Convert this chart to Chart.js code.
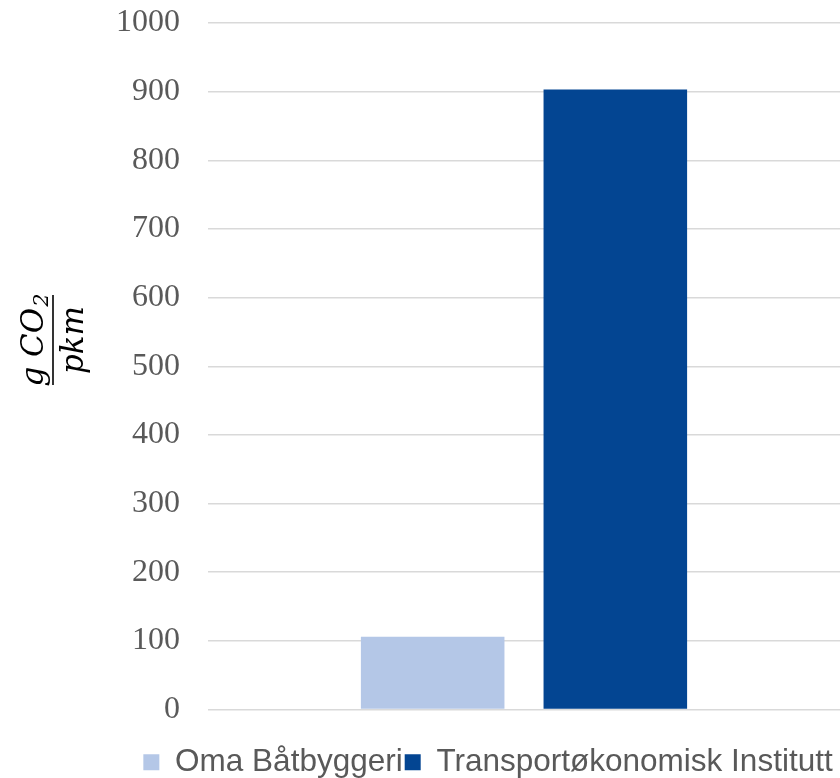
<!DOCTYPE html>
<html>
<head>
<meta charset="utf-8">
<title>g CO2 per pkm</title>
<script src="https://cdn.jsdelivr.net/npm/chart.js@4/dist/chart.umd.min.js"></script>
<style>
  html, body { margin: 0; padding: 0; background: #ffffff; }
  #wrap { width: 840px; height: 778px; }
</style>
</head>
<body>
<div id="wrap"><canvas id="chart" width="840" height="778"></canvas></div>
<script>
// Emissions per passenger-kilometre, grams of CO2
const categories = [''];
const seriesNames = ['Oma Båtbyggeri', 'Transportøkonomisk Institutt'];
const omaValues = [106];
const toiValues = [903];
const yTicks = [0, 100, 200, 300, 400, 500, 600, 700, 800, 900, 1000];

const colors = ['#b4c7e7', '#034592'];
const textGrey = '#595959';

// Rotated fraction "g CO2 / pkm" used as the value-axis title
const fractionTitle = {
  id: 'fractionTitle',
  afterDraw(chart) {
    const ctx = chart.ctx;
    ctx.save();
    ctx.translate(53, 340);
    ctx.rotate(-Math.PI / 2);
    ctx.fillStyle = '#000000';
    ctx.strokeStyle = '#000000';

    const big = 'italic 31px "DejaVu Serif"';
    const small = 'italic 21px "DejaVu Serif"';

    ctx.font = big;
    const numMain = 'g CO';
    const wMain = ctx.measureText(numMain).width;
    ctx.font = small;
    const wSub = ctx.measureText('2').width;
    const numW = wMain + wSub + 1;

    ctx.font = big;
    const den = 'pkm';
    const denW = ctx.measureText(den).width;

    const barHalf = 45;
    ctx.lineWidth = 1.6;
    ctx.beginPath();
    ctx.moveTo(-barHalf, 0);
    ctx.lineTo(barHalf, 0);
    ctx.stroke();

    ctx.textBaseline = 'alphabetic';
    ctx.textAlign = 'left';
    ctx.font = big;
    ctx.fillText(numMain, -numW / 2, -10);
    ctx.font = small;
    ctx.fillText('2', -numW / 2 + wMain + 1, -5);

    ctx.font = big;
    ctx.fillText(den, -denW / 2, 30);
    ctx.restore();
  }
};

// Moves the bottom legend row sideways after layout
const legendOffset = {
  id: 'legendOffset',
  afterLayout(chart) {
    const lg = chart.legend;
    if (!lg) return;
    const dx = 68;
    lg.left += dx;
    lg.right += dx;
  }
};

new Chart(document.getElementById('chart'), {
  type: 'bar',
  data: {
    labels: categories,
    datasets: [
      { label: seriesNames[0], data: omaValues, backgroundColor: colors[0], borderWidth: 0 },
      { label: seriesNames[1], data: toiValues, backgroundColor: colors[1], borderWidth: 0 }
    ]
  },
  options: {
    responsive: false,
    devicePixelRatio: 1,
    animation: false,
    layout: { padding: { top: 23, right: 0, bottom: -10, left: 0 } },
    datasets: {
      bar: { categoryPercentage: 0.578, barPercentage: 0.786 }
    },
    scales: {
      x: {
        display: true,
        ticks: { display: false },
        grid: { display: false },
        border: { display: false },
        afterFit(scale) { scale.height = 35; }
      },
      y: {
        min: 0,
        max: 1000,
        afterBuildTicks(scale) { scale.ticks = yTicks.map(v => ({ value: v })); },
        ticks: {
          padding: 28,
          color: textGrey,
          font: { family: '"Liberation Serif", "Times New Roman", serif', size: 32 },
          callback: (value) => String(value)
        },
        grid: { color: '#d9d9d9', lineWidth: 1.5, drawTicks: false },
        border: { display: false },
        afterFit(scale) {
          scale.width = 208;
          scale.paddingTop = 0;
          scale.paddingBottom = 0;
        }
      }
    },
    plugins: {
      legend: {
        position: 'bottom',
        labels: {
          boxWidth: 16,
          boxHeight: 16,
          padding: 2,
          color: textGrey,
          font: { family: '"Liberation Sans", Arial, sans-serif', size: 31.5, lineHeight: 1 }
        }
      },
      tooltip: { enabled: false }
    }
  },
  plugins: [fractionTitle, legendOffset]
});
</script>
</body>
</html>
